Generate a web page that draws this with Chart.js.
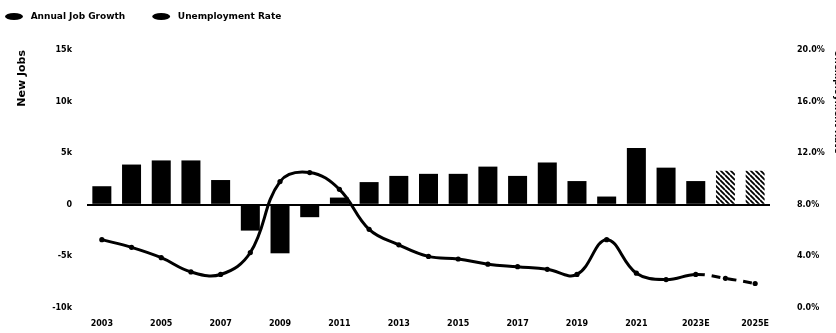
<!DOCTYPE html>
<html>
<head>
<meta charset="utf-8">
<script src="https://cdn.jsdelivr.net/npm/chart.js@4"></script>
<style>
  html, body { margin: 0; padding: 0; background: #fff; overflow: hidden; }
  #wrap { width: 846px; height: 333px; position: relative; }
</style>
</head>
<body>
<div id="wrap"><canvas id="jobsChart"></canvas></div>
<script>
// data
const years = ['2003', '2004', '2005', '2006', '2007', '2008', '2009', '2010', '2011', '2012',
  '2013', '2014', '2015', '2016', '2017', '2018', '2019', '2020', '2021', '2022',
  '2023E', '2024E', '2025E'];
const jobGrowth = [1800, 3900, 4300, 4300, 2400, -2500, -4700, -1200, 700, 2200,
  2800, 3000, 3000, 3700, 2800, 4100, 2300, 800, 5500, 3600,
  2300, 3300, 3300];
const unemploymentRate = [5.3, 4.7, 3.9, 2.8, 2.6, 4.3, 9.8, 10.5, 9.2, 6.1,
  4.9, 4.0, 3.8, 3.4, 3.2, 3.0, 2.6, 5.3, 2.7, 2.2,
  2.6, 2.3, 1.9];
const firstHatched = 21;   // 2024E onwards drawn hatched
const firstDashed = 20;    // line dashed after 2023E

Chart.defaults.font.family = "'DejaVu Sans', sans-serif";
Chart.defaults.color = '#000';

// diagonal hatch for projected bars
function makeHatch() {
  const c = document.createElement('canvas');
  c.width = 5; c.height = 5;
  const g = c.getContext('2d');
  g.fillStyle = '#fff';
  g.fillRect(0, 0, 5, 5);
  g.strokeStyle = '#000';
  g.lineWidth = 1.8;
  g.beginPath();
  for (let k = -1; k <= 1; k++) {
    g.moveTo(0, k * 5);
    g.lineTo(5, 5 + k * 5);
  }
  g.stroke();
  return g.createPattern(c, 'repeat');
}
const hatch = makeHatch();

const legendHeight = {
  id: 'legendHeight',
  beforeInit(chart) {
    const fit = chart.legend.fit;
    chart.legend.fit = function () {
      fit.bind(chart.legend)();
      this.height = 43;
    };
  }
};

new Chart(document.getElementById('jobsChart'), {
  data: {
    labels: years,
    datasets: [{
      type: 'bar',
      label: 'Annual Job Growth',
      data: jobGrowth,
      yAxisID: 'y',
      order: 1,
      backgroundColor: ctx => (ctx.dataIndex >= firstHatched ? hatch : '#000'),
      barPercentage: 0.8,
      categoryPercentage: 0.8
    }, {
      type: 'line',
      label: 'Unemployment Rate',
      data: unemploymentRate,
      yAxisID: 'y1',
      order: 0,
      borderColor: '#000',
      backgroundColor: '#000',
      borderWidth: 3,
      pointRadius: 2.6,
      pointBorderWidth: 0,
      pointBackgroundColor: '#000',
      tension: 0.4,
      segment: {
        borderDash: ctx => (ctx.p0DataIndex >= firstDashed ? [9, 7] : undefined)
      }
    }]
  },
  options: {
    responsive: true,
    maintainAspectRatio: false,
    animation: false,
    layout: { padding: { top: 7, bottom: 0 } },
    plugins: {
      tooltip: { enabled: false },
      legend: {
        position: 'top',
        align: 'start',
        labels: {
          usePointStyle: true,
          pointStyle: 'circle',
          pointStyleWidth: 18,
          boxHeight: 5,
          padding: 5,
          font: { size: 9, weight: 'bold' },
          sort: (a, b) => a.datasetIndex - b.datasetIndex,
          generateLabels: chart => Chart.defaults.plugins.legend.labels.generateLabels(chart).map(item => {
            item.fillStyle = '#000';
            item.strokeStyle = '#000';
            item.lineWidth = 0;
            item.pointStyle = 'circle';
            item.text = ' ' + item.text + '       ';
            return item;
          })
        }
      }
    },
    scales: {
      x: {
        offset: true,
        afterFit: s => { s.height = 25; },
        grid: { display: false, drawTicks: false },
        border: { display: false },
        ticks: {
          autoSkip: false,
          maxRotation: 0,
          padding: 11,
          font: { size: 8, weight: 'bold' },
          callback: (v, i) => (i % 2 === 0 ? years[i] : '')
        }
      },
      y: {
        position: 'left',
        min: -10000,
        max: 15000,
        afterFit: s => { s.width = 87; },
        grid: {
          drawTicks: false,
          lineWidth: 2,
          color: c => (c.tick && c.tick.value === 0 ? '#000' : 'rgba(0,0,0,0)')
        },
        border: { display: false },
        ticks: {
          stepSize: 5000,
          padding: 15,
          font: { size: 8, weight: 'bold' },
          callback: v => (v === 0 ? '0' : v / 1000 + 'k')
        },
        title: {
          display: true,
          text: 'New Jobs',
          align: 'end',
          padding: { top: 16, bottom: 0 },
          font: { size: 11, weight: 'bold' }
        }
      },
      y1: {
        position: 'right',
        min: 0,
        max: 20,
        afterFit: s => { s.width = 76; },
        grid: { display: false, drawTicks: true, tickLength: 24 },
        border: { display: false },
        ticks: {
          stepSize: 4,
          padding: 3,
          font: { size: 8, weight: 'bold' },
          callback: v => v.toFixed(1) + '%'
        },
        title: {
          display: true,
          text: 'Unemployment Rate',
          align: 'end',
          padding: { top: 3, bottom: 0 },
          font: { size: 9, weight: 'bold' }
        }
      }
    }
  },
  plugins: [legendHeight]
});
</script>
</body>
</html>
